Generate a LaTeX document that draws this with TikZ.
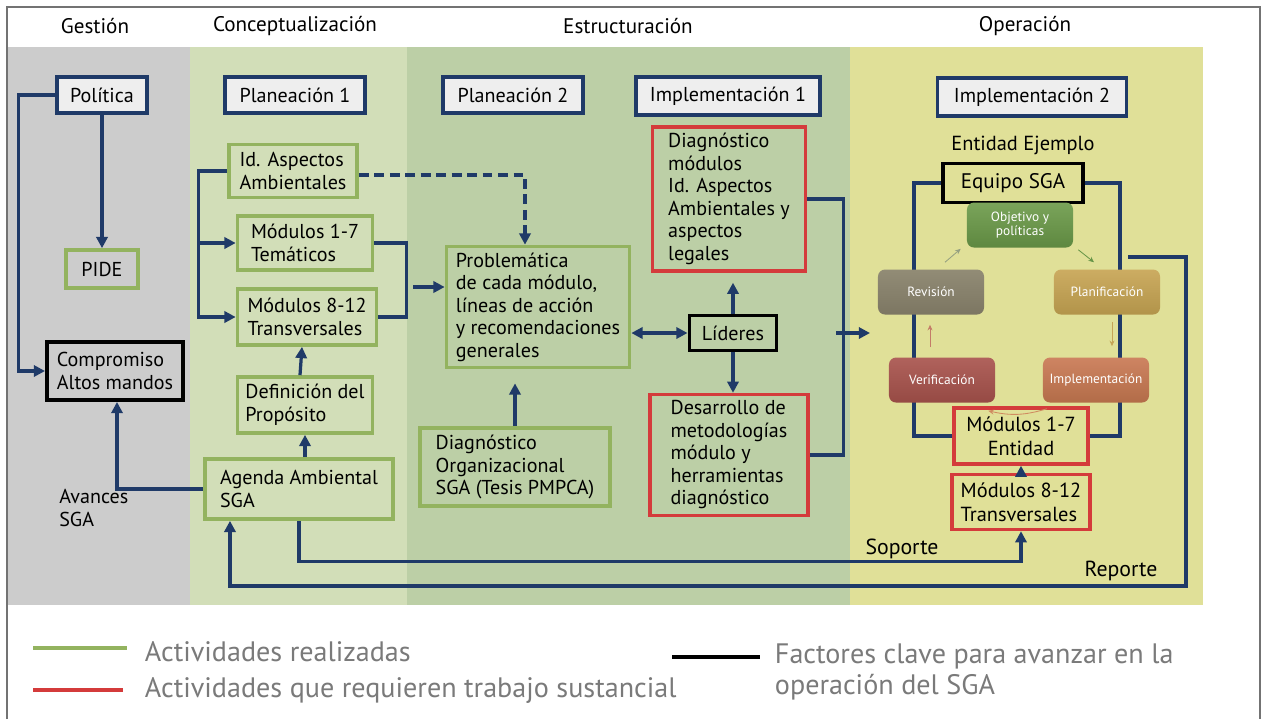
\documentclass[tikz,border=0pt]{standalone}
\usepackage{fontspec}
\setmainfont{PT Sans}
\usetikzlibrary{arrows.meta,calc}

\definecolor{navy}{HTML}{1F3A68}
\definecolor{donegreen}{HTML}{93B35F}
\definecolor{workred}{HTML}{D43B3B}
\definecolor{headfill}{HTML}{EEEEEE}
\definecolor{bandgray}{HTML}{CCCCCC}
\definecolor{bandlight}{HTML}{D2DEB8}
\definecolor{bandmid}{HTML}{BCCFA6}
\definecolor{bandyellow}{HTML}{E0E098}
\definecolor{legendgray}{HTML}{7A7A7A}

\newcommand{\boxfont}{\fontsize{14.3}{16}\selectfont}

\begin{document}
\begin{tikzpicture}[x=0.025cm,y=-0.025cm,
  >={Triangle[length=8pt,width=8pt]},
  phase/.style={font=\fontsize{15}{17}\selectfont},
  headbox/.style={draw=navy, line width=2.6pt, fill=headfill,
    font=\fontsize{14.3}{16}\selectfont, minimum height=0.9cm, align=center},
  donebox/.style={draw=donegreen, line width=2.6pt, align=left,
    inner xsep=0.2cm, font=\boxfont},
  workbox/.style={donebox, draw=workred, line width=2.4pt},
  keybox/.style={donebox, draw=black, line width=2.8pt},
  cycbox/.style={rounded corners=5pt, text=white, align=center,
    font=\fontsize{9.5}{10.5}\selectfont, minimum width=2.65cm,
    minimum height=1.125cm, inner sep=2pt},
  link/.style={draw=navy, line width=2.3pt},
  cycarrow/.style={-{Stealth[length=4pt,width=3.5pt]}, line width=0.6pt},
  legtext/.style={text=legendgray, font=\fontsize{20}{22.5}\selectfont},
  legline/.style={line width=3pt}
]
  \useasboundingbox (0,0) rectangle (1264,719);
  \fill[white] (0,0) rectangle (1264,719);

  % phase bands
  \fill[bandgray] (8,47) rectangle (190,605);
  \fill[bandlight] (190,47) rectangle (407,605);
  \fill[bandmid] (407,47) rectangle (850,605);
  \fill[bandyellow] (850,47) rectangle (1203,605);
  \draw[black!55, line width=0.8pt] (7,719) -- (7,7) -- (1260,7) -- (1260,719);

  % phase titles
  \node[phase] (tgest) at (95,26) {Gestión};
  \node[phase] (tconc) at (295,26) {Conceptualización};
  \node[phase] (testr) at (628,26) {Estructuración};
  \node[phase] (toper) at (1025,26) {Operación};

  % stage headers
  \node[headbox, minimum width=2.25cm] (pol) at (102,95) {Política};
  \node[headbox, minimum width=3.5cm] (plan1) at (295,95) {Planeación 1};
  \node[headbox, minimum width=3.5cm] (plan2) at (513,95) {Planeación 2};
  \node[headbox, minimum width=4.6cm, minimum height=0.95cm] (impl1) at (728,96) {Implementación 1};
  \node[headbox, minimum width=4.725cm, minimum height=0.95cm] (impl2) at (1032,97) {Implementación 2};

  % gestion
  \node[donebox, minimum width=1.8cm, minimum height=0.95cm] (pide) at (102,269) {PIDE};
  \node[keybox, minimum width=3.4cm, minimum height=1.45cm] (comp) at (115,371) {Compromiso\\Altos mandos};
  \node[anchor=north west, align=left, font=\boxfont, inner sep=0pt] (avan) at (59,489) {Avances\\SGA};

  % conceptualizacion
  \node[donebox, minimum width=3.2cm, minimum height=1.325cm] (idasp) at (293,171) {Id. Aspectos\\Ambientales};
  \node[donebox, minimum width=3.375cm, minimum height=1.35cm] (mod17) at (305,243) {Módulos 1-7\\Temáticos};
  \node[donebox, minimum width=3.475cm, minimum height=1.4cm] (mod812) at (307,317) {Módulos 8-12\\Transversales};
  \node[donebox, minimum width=3.375cm, minimum height=1.4cm] (def) at (305,405) {Definición del\\Propósito};
  \node[donebox, minimum width=4.7cm, minimum height=1.5cm] (agenda) at (299,489) {Agenda Ambiental\\SGA};

  % estructuracion
  \node[donebox, minimum width=4.575cm, minimum height=3.025cm] (prob) at (538,307)
    {Problemática\\de cada módulo,\\líneas de acción\\y recomendaciones\\generales};
  \node[donebox, minimum width=4.75cm, minimum height=1.95cm] (dorg) at (515,467)
    {Diagnóstico\\Organizacional\\SGA (Tesis PMPCA)};
  \node[workbox, minimum width=3.825cm, minimum height=3.6cm] (dmod) at (729,199)
    {Diagnóstico\\módulos\\Id. Aspectos\\Ambientales y\\aspectos\\legales};
  \node[keybox, minimum width=2.175cm, minimum height=0.875cm, align=center] (lid) at (733,333) {Líderes};
  \node[workbox, minimum width=3.95cm, minimum height=3.025cm] (desa) at (729,455)
    {Desarrollo de\\metodologías\\módulo y\\herramientas\\diagnóstico};

  % operacion
  \node[font=\fontsize{14.5}{16}\selectfont] (ent) at (1023,145) {Entidad Ejemplo};
  \node[keybox, fill=bandyellow, minimum width=3.5cm, minimum height=0.975cm,
    font=\fontsize{15}{17}\selectfont] (equipo) at (1013,183) {Equipo SGA};
  \node[workbox, fill=bandyellow, minimum width=3.35cm, minimum height=1.4cm, align=center,
    font=\fontsize{14.5}{17}\selectfont] (m17e) at (1021,436) {Módulos 1-7\\Entidad};
  \node[workbox, minimum width=3.45cm, minimum height=1.375cm,
    font=\fontsize{14.5}{17}\selectfont] (m812e) at (1021,502) {Módulos 8-12\\Transversales};

  % loop behind the cycle
  \draw[link] (equipo.west) -- ++(-27,0) |- (m17e.west);
  \draw[link] (equipo.east) -- ++(35,0) |- (m17e.east);

  % cycle
  \node[cycbox, top color={rgb,255:red,122;green,164;blue,90}, bottom color={rgb,255:red,94;green,136;blue,64}]
    (obj) at (1020,225) {Objetivo y\\políticas};
  \node[cycbox, top color={rgb,255:red,146;green,140;blue,118}, bottom color={rgb,255:red,124;green,118;blue,98}]
    (rev) at (931,292) {Revisión};
  \node[cycbox, top color={rgb,255:red,204;green,172;blue,98}, bottom color={rgb,255:red,178;green,148;blue,74}]
    (planif) at (1107,292) {Planificación};
  \node[cycbox, top color={rgb,255:red,176;green,98;blue,92}, bottom color={rgb,255:red,150;green,74;blue,68}]
    (verif) at (942,380) {Verificación};
  \node[cycbox, top color={rgb,255:red,206;green,132;blue,98}, bottom color={rgb,255:red,178;green,108;blue,72}]
    (implc) at (1096,380) {Implementación};

  \draw[cycarrow, color={rgb,255:red,150;green,160;blue,128}]
    ($(rev.north)+(14,-7)$) -- ($(obj.south west)+(-6,1)$);
  \draw[cycarrow, color={rgb,255:red,104;green,150;blue,72}]
    ($(obj.south east)+(5,2)$) -- ($(planif.north)+(-13,-7)$);
  \draw[cycarrow, color={rgb,255:red,196;green,164;blue,86}]
    ($(planif.south)+(5,7)$) -- ($(implc.north)+(16,-11)$);
  \draw[cycarrow, color={rgb,255:red,208;green,138;blue,96}]
    ($(implc.south west)+(4,6)$) to[bend left=15] ($(verif.south east)+(-7,8)$);
  \draw[cycarrow, color={rgb,255:red,196;green,124;blue,104}]
    ($(verif.north)+(-12,-10)$) -- ($(rev.south)+(-1,10)$);

  % connectors
  \draw[link,->] (pol.west) -- ++(-37,0) |- (comp.west);
  \draw[link,->] (pol.south) -- (pide.north);
  \draw[link,->] (agenda.west) -| ([xshift=0.05cm]comp.south);
  \draw[link,->] (idasp.west) -- ++(-29,0) |- (mod17.west);
  \draw[link,->] (idasp.west) -- ++(-29,0) |- (mod812.west);
  \draw[link,->,dashed,dash pattern=on 7pt off 4pt] ([yshift=-0.1cm]idasp.east) -| ([xshift=-0.325cm]prob.north);
  \draw[link] (mod17.east) -- ++(32,0) |- (mod812.east);
  \coordinate (jn) at (413,287);
  \draw[link,->] (jn) -- (jn -| prob.west);
  \draw[link,->] ([xshift=-0.125cm]def.north) -- ([xshift=-0.125cm]mod812.south);
  \draw[link,->] (def.south |- agenda.north) -- (def.south);
  \draw[link,->,shorten >=0.35cm] (dorg.north) -- (dorg.north |- prob.south);
  \draw[link,<->] (lid.west -| prob.east) -- (lid.west);
  \draw[link,->,shorten >=0.25cm] (lid.north) -- (lid.north |- dmod.south);
  \draw[link,->] (lid.south) -- (lid.south |- desa.north);
  \draw[link] (dmod.east) -- ++(36,0) |- (desa.east);
  \coordinate (op) at (836,333);
  \draw[link,->] (op) -- ++(34,0);
  \draw[link,->] (agenda.south) -- ++(0,41) -| (m812e.south);
  \coordinate (rep) at (1128,257);
  \draw[link,->] (rep) -- ++(58,0) -- ++(0,329) -| ([xshift=-1.725cm]agenda.south);
  \draw[link,->] (m812e.north) -- (m17e.south);

  \node[font=\fontsize{15.5}{18}\selectfont] (sop) at (902,549) {Soporte};
  \node[font=\fontsize{15.5}{18}\selectfont] (repl) at (1121,571) {Reporte};

  % legend
  \draw[legline, donegreen] (33,648) -- (127,648);
  \draw[legline, workred] (33,690) -- (123,690);
  \draw[legline, black, line width=3.5pt] (672,657) -- (760,657);
  \node[legtext, anchor=west] (lgdone) at (140,652) {Actividades realizadas};
  \node[legtext, anchor=west] (lgwork) at (140,690) {Actividades que requieren trabajo sustancial};
  \node[legtext, anchor=west, align=left] (lgkey) at (770,672)
    {Factores clave para avanzar en la\\operación del SGA};
\end{tikzpicture}
\end{document}
